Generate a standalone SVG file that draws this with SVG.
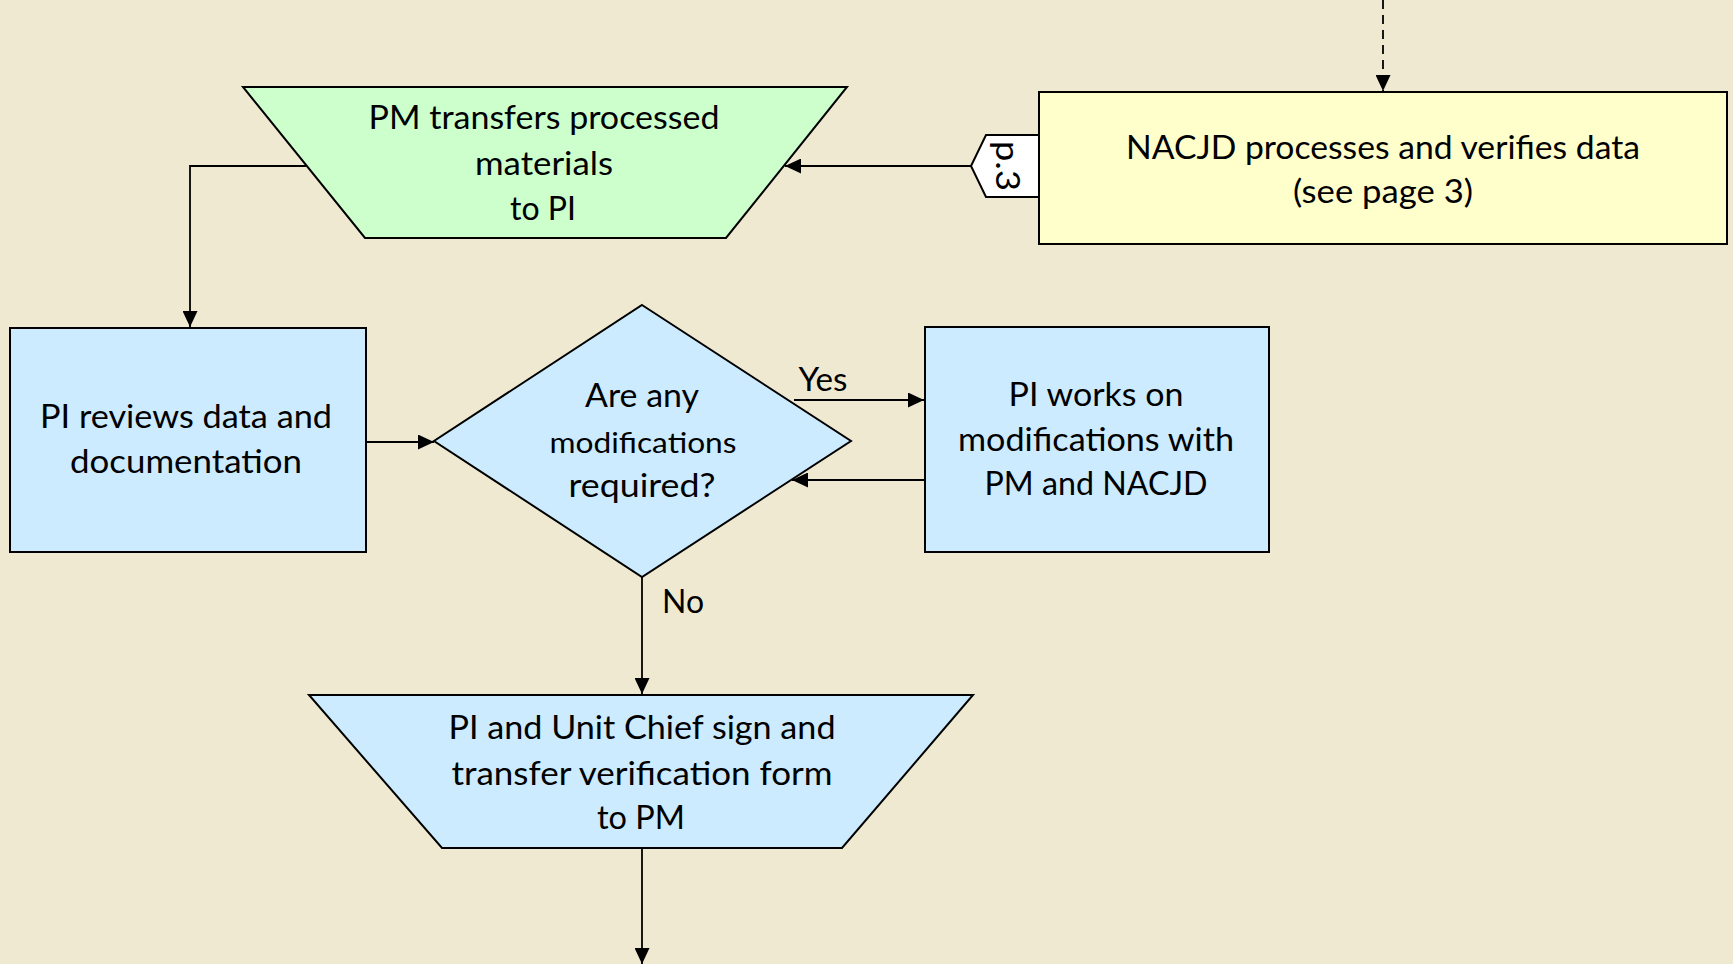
<svg xmlns="http://www.w3.org/2000/svg" width="1733" height="964" viewBox="0 0 1733 964">
<style>
.bg{fill:#F0E9D2}
.shape{stroke:#000;stroke-width:2}
.green{fill:#CCFFCC}
.blue{fill:#CCEBFF}
.yellow{fill:#FFFFCC}
.tab{fill:#FFFFFF}
text{font-family:Lato,"Liberation Sans",sans-serif;font-size:32px;fill:#000;text-anchor:middle}
.small{font-size:28px}
.conn{stroke:#000;stroke-width:1.8;fill:none}
</style>
<defs>
<marker id="arrL" viewBox="0 0 10 10" refX="10" refY="5" markerWidth="16" markerHeight="15" markerUnits="userSpaceOnUse" orient="auto" preserveAspectRatio="none">
<path d="M0,0 L10,5 L0,10 z" fill="#000"/>
</marker>
</defs>
<rect class="bg" x="0" y="0" width="1733" height="964"/>

<g id="connectors">
<line class="conn" x1="1383" y1="0" x2="1383" y2="91" stroke-dasharray="9,6" marker-end="url(#arrL)"/>
<line class="conn" x1="971" y1="166" x2="785" y2="166" marker-end="url(#arrL)"/>
<polyline class="conn" points="306,166 190,166 190,327" marker-end="url(#arrL)"/>
<line class="conn" x1="366" y1="442" x2="434" y2="442" marker-end="url(#arrL)"/>
<line class="conn" x1="794" y1="400" x2="924" y2="400" marker-end="url(#arrL)"/>
<line class="conn" x1="924" y1="480" x2="792" y2="480" marker-end="url(#arrL)"/>
<line class="conn" x1="642" y1="577" x2="642" y2="694" marker-end="url(#arrL)"/>
<line class="conn" x1="642" y1="848" x2="642" y2="964" marker-end="url(#arrL)"/>
</g>

<g id="n-pm-transfers">
<polygon class="shape green" points="243,87 847,87 726,238 365,238"/>
<text x="544" y="129" textLength="351" lengthAdjust="spacingAndGlyphs">PM transfers processed</text>
<text x="544" y="175" textLength="138" lengthAdjust="spacingAndGlyphs">materials</text>
<text x="543" y="220" textLength="66" lengthAdjust="spacingAndGlyphs">to PI</text>
</g>

<g id="n-nacjd">
<rect class="shape yellow" x="1039" y="92" width="688" height="152"/>
<text x="1383" y="159" textLength="514" lengthAdjust="spacingAndGlyphs">NACJD processes and verifies data</text>
<text x="1383" y="203" textLength="180" lengthAdjust="spacingAndGlyphs">(see page 3)</text>
</g>

<g id="n-p3">
<polygon class="shape tab" points="1039,135 986,135 971,166 986,197 1039,197"/>
<text transform="translate(996,166) rotate(90)" x="0" y="0" font-size="28" textLength="50" lengthAdjust="spacingAndGlyphs">p.3</text>
</g>

<g id="n-pi-reviews">
<rect class="shape blue" x="10" y="328" width="356" height="224"/>
<text x="186" y="428" textLength="292" lengthAdjust="spacingAndGlyphs">PI reviews data and</text>
<text x="186" y="473" textLength="232" lengthAdjust="spacingAndGlyphs">documentation</text>
</g>

<g id="n-decision">
<polygon class="shape blue" points="642,305 851,441 642,577 434,441"/>
<text x="642" y="407" textLength="114" lengthAdjust="spacingAndGlyphs">Are any</text>
<text class="small" x="643" y="453" textLength="187" lengthAdjust="spacingAndGlyphs">modifications</text>
<text x="642" y="497" textLength="147" lengthAdjust="spacingAndGlyphs">required?</text>
</g>

<g id="n-pi-works">
<rect class="shape blue" x="925" y="327" width="344" height="225"/>
<text x="1096" y="406" textLength="175" lengthAdjust="spacingAndGlyphs">PI works on</text>
<text x="1096" y="451" textLength="276" lengthAdjust="spacingAndGlyphs">modifications with</text>
<text x="1096" y="495" textLength="223" lengthAdjust="spacingAndGlyphs">PM and NACJD</text>
</g>

<g id="n-sign">
<polygon class="shape blue" points="309,695 973,695 842,848 442,848"/>
<text x="642" y="739" textLength="387" lengthAdjust="spacingAndGlyphs">PI and Unit Chief sign and</text>
<text x="642" y="785" textLength="381" lengthAdjust="spacingAndGlyphs">transfer verification form</text>
<text x="641" y="829" textLength="88" lengthAdjust="spacingAndGlyphs">to PM</text>
</g>

<g id="labels">
<text x="823" y="391" textLength="49" lengthAdjust="spacingAndGlyphs">Yes</text>
<text x="683" y="613" textLength="42" lengthAdjust="spacingAndGlyphs">No</text>
</g>
</svg>
